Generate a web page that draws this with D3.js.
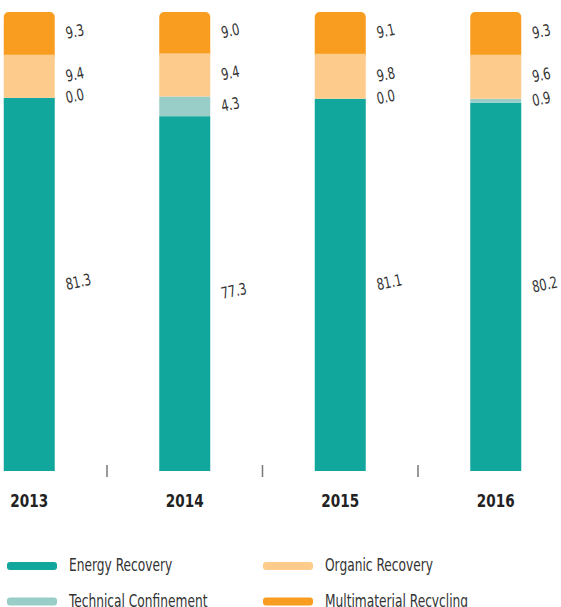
<!DOCTYPE html>
<html>
<head>
<meta charset="utf-8">
<script src="https://cdnjs.cloudflare.com/ajax/libs/d3/7.8.5/d3.min.js"></script>
<style>
  body { margin: 0; background: #fff; }
  svg { display: block; }
  .lbl { font-family: "Liberation Sans Narrow", "DejaVu Sans Condensed", sans-serif; fill: #333; }
</style>
</head>
<body>
<svg width="561" height="607"></svg>
<script>
var years = ["2013", "2014", "2015", "2016"];
var keys = ["Energy Recovery", "Technical Confinement", "Organic Recovery", "Multimaterial Recycling"];
var energy = [81.3, 77.3, 81.1, 80.2];
var technical = [0.0, 4.3, 0.0, 0.9];
var organic = [9.4, 9.4, 9.8, 9.6];
var multimaterial = [9.3, 9.0, 9.1, 9.3];
var colors = ["#12a79d", "#99cec8", "#fdcb8c", "#f89d1f"];

var data = years.map(function(y, i) {
  return {
    year: y,
    "Energy Recovery": energy[i],
    "Technical Confinement": technical[i],
    "Organic Recovery": organic[i],
    "Multimaterial Recycling": multimaterial[i]
  };
});

var svg = d3.select("svg");

var x = d3.scaleBand().domain(years).range([-48.5, 573.5]).padding(0);
var barW = 51;
var y = d3.scaleLinear().domain([0, 100]).range([471, 12]);
var z = d3.scaleOrdinal().domain(keys).range(colors);
var squeeze = 0.8;

var series = d3.stack().keys(keys)(data);

var bars = svg.append("g");
series.forEach(function(s, si) {
  var last = si === series.length - 1;
  bars.append("g")
      .attr("fill", z(s.key))
    .selectAll("rect")
    .data(s)
    .enter().append("rect")
      .attr("x", function(d) { return x(d.data.year) + x.bandwidth() / 2 - barW / 2; })
      .attr("y", function(d) { return y(d[1]); })
      .attr("width", barW)
      .attr("height", function(d) { return y(d[0]) - y(d[1]) + (last ? 6 : 0); })
      .attr("rx", last ? 5 : 0);
});
// rounded top segment sits under the others
bars.select("g:last-child").lower();

// value labels
series.forEach(function(s) {
  svg.append("g")
    .selectAll("text")
    .data(s)
    .enter().append("text")
      .attr("class", "lbl")
      .attr("font-size", 16)
      .attr("dy", "0.35em")
      .attr("transform", function(d) {
        var tx = x(d.data.year) + x.bandwidth() / 2 + barW / 2 + 11;
        var ty = (y(d[0]) + y(d[1])) / 2;
        return "translate(" + tx + "," + ty + ") rotate(-12) scale(" + squeeze + ",1)";
      })
      .text(function(d) { return (d[1] - d[0]).toFixed(1); });
});

// ticks between bands
svg.append("g")
  .selectAll("line")
  .data(years.slice(1))
  .enter().append("line")
    .attr("x1", function(d) { return x(d); })
    .attr("x2", function(d) { return x(d); })
    .attr("y1", 465)
    .attr("y2", 477)
    .attr("stroke", "#777")
    .attr("stroke-width", 1.5);

// year labels
svg.append("g")
  .selectAll("text")
  .data(years)
  .enter().append("text")
    .attr("class", "lbl")
    .attr("transform", function(d) {
      return "translate(" + (x(d) + x.bandwidth() / 2) + ",507) scale(0.84,1)";
    })
    .attr("text-anchor", "middle")
    .attr("font-size", 18)
    .attr("font-weight", "bold")
    .style("fill", "#222")
    .text(function(d) { return d; });

// legend
var legendOrder = ["Energy Recovery", "Organic Recovery", "Technical Confinement", "Multimaterial Recycling"];
var legend = svg.append("g")
  .selectAll("g")
  .data(legendOrder)
  .enter().append("g")
    .attr("transform", function(d, i) {
      return "translate(" + (i % 2 === 0 ? 7 : 263) + "," + (i < 2 ? 566 : 601.5) + ")";
    });

legend.append("rect")
    .attr("x", 0)
    .attr("y", -4)
    .attr("width", 50)
    .attr("height", 8)
    .attr("rx", 3)
    .attr("fill", z);

legend.append("text")
    .attr("class", "lbl")
    .attr("transform", "translate(62,5) scale(" + squeeze + ",1)")
    .attr("font-size", 17)
    .text(function(d) { return d; });
</script>
</body>
</html>
